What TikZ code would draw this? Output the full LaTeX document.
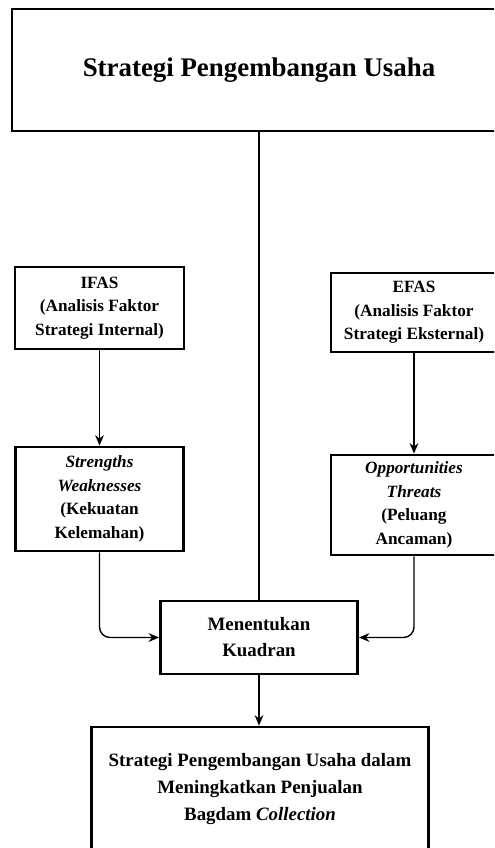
\documentclass[tikz,border=0pt]{standalone}
\usepackage{fontspec}
\setmainfont{Liberation Serif}
\usetikzlibrary{arrows.meta}

\tikzset{
  box/.style={draw, line width=1.6pt, align=center, inner sep=2pt,
    font=\bfseries\fontsize{9.8}{13.4}\selectfont},
  link/.style={line width=0.8pt},
  arr/.style={link, -{Stealth[length=6pt, width=5pt]}, rounded corners=6pt}
}

\begin{document}
\begin{tikzpicture}[x=0.02cm, y=-0.02cm]
    \useasboundingbox (0,0) rectangle (494,848);
    \clip (0,0) rectangle (494,848);

    % Title box (runs off the right edge)
    \node[box, minimum width=9.88cm, minimum height=2.44cm,
      font=\bfseries\fontsize{15.3}{18}\selectfont] (judul) at (259,70) {Strategi Pengembangan Usaha};

    % Internal side
    \node[box, minimum width=3.38cm, minimum height=1.64cm] (ifas) at (99.5,308)
      {IFAS\\(Analisis Faktor\\Strategi Internal)};
    \node[box, minimum width=3.36cm, minimum height=2.08cm] (sw) at (99.5,499)
      {\textit{Strengths}\\\textit{Weaknesses}\\(Kekuatan\\Kelemahan)};

    % External side
    \node[box, minimum width=3.32cm, minimum height=1.58cm] (efas) at (414,312.5)
      {EFAS\\(Analisis Faktor\\Strategi Eksternal)};
    \node[box, minimum width=3.32cm, minimum height=2.0cm] (ot) at (414,505)
      {\textit{Opportunities}\\\textit{Threats}\\(Peluang\\Ancaman)};

    % Quadrant
    \node[box, minimum width=3.94cm, minimum height=1.46cm,
      font=\bfseries\fontsize{10.75}{14.8}\selectfont] (kuadran) at (259,637.5)
      {Menentukan\\Kuadran};

    % Result box (runs off the bottom edge)
    \node[box, minimum width=6.74cm, minimum height=2.48cm,
      font=\bfseries\fontsize{10.75}{15.4}\selectfont] (hasil) at (260,789)
      {Strategi Pengembangan Usaha dalam\\Meningkatkan Penjualan\\Bagdam \textit{Collection}};

    % Connectors
    \draw[link] (judul.south) -- (kuadran.north);
    \draw[arr] (ifas.south) -- (sw.north);
    \draw[arr] (efas.south) -- (ot.north);
    \draw[arr] (sw.south) |- (kuadran.west);
    \draw[arr] (ot.south) |- (kuadran.east);
    \draw[arr] (kuadran.south) -- (kuadran.south |- hasil.north);
\end{tikzpicture}
\end{document}
